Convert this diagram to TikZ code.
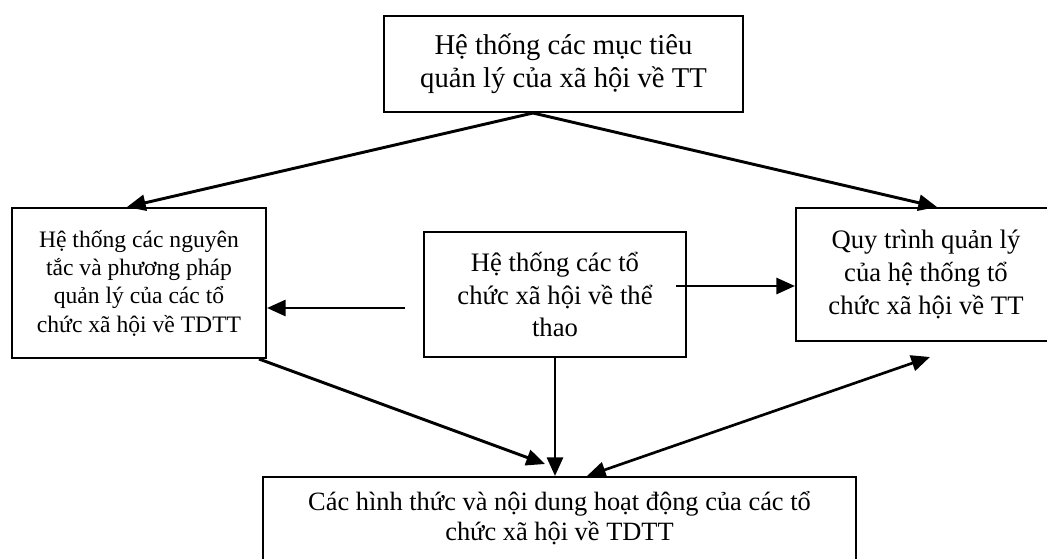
\documentclass[tikz,border=0pt]{standalone}
\usepackage{fontspec}
\setmainfont{Liberation Serif}
\usetikzlibrary{arrows.meta,calc}
\begin{document}
\begin{tikzpicture}[x=0.75pt,y=-0.75pt,
  box/.style={draw, line width=1.5pt, inner sep=0pt, align=center},
  conn/.style={line width=2.2pt, -{Triangle[length=14pt,width=12pt]}},
  dconn/.style={line width=2pt, {Triangle[length=14pt,width=12pt]}-{Triangle[length=14pt,width=12pt]}},
  midtxt/.style={font=\fontsize{17.7}{21.3}\selectfont},
  widetxt/.style={font=\fontsize{20}{24.7}\selectfont}]
\useasboundingbox (0,0) rectangle (1047,558);
\clip (0,0) rectangle (1047,558);
\node[box, minimum width=269.25pt, minimum height=72pt, font=\fontsize{21.5}{24.7}\selectfont]
  (top) at (563.5,64) {Hệ thống các mục tiêu\\quản lý của xã hội về TT};
\node[box, midtxt, minimum width=190.5pt, minimum height=112.5pt]
  (left) at (139,283) {Hệ thống các nguyên\\tắc và phương pháp\\quản lý của các tổ\\chức xã hội về TDTT};
\node[box, widetxt, minimum width=196.5pt, minimum height=93.75pt]
  (mid) at (555,294.5) {Hệ thống các tổ\\chức xã hội về thể\\thao};
\node[box, widetxt, minimum width=195pt, minimum height=99.75pt]
  (right) at (926,274.5) {Quy trình quản lý\\của hệ thống tổ\\chức xã hội về TT};
\node[box, minimum width=444.75pt, minimum height=92.25pt] (bot) at (559.5,538.5) {};
\node[align=center, inner sep=0pt, font=\fontsize{19.8}{22}\selectfont] (bottxt) at (559.5,518)
  {Các hình thức và nội dung hoạt động của các tổ\\chức xã hội về TDTT};
\coordinate (t0) at ([xshift=-22.9pt]top.south);
\coordinate (c3) at (405,308);
\coordinate (c4) at (676,286);
\coordinate (c5) at (545,464);
\coordinate (c7) at (930,357);
\draw[conn] (t0) -- ([xshift=-9pt]left.north);
\draw[conn] (t0) -- ([xshift=8.25pt]right.north);
\draw[conn] (c3) -- (left.east |- c3);
\draw[conn] (c4) -- (right.west |- c4);
\draw[conn] ([xshift=-6pt]left.south east) -- (c5);
\draw[conn] (mid.south) -- (mid.south |- bot.north);
\draw[dconn] ([xshift=20.6pt]bot.north) -- (c7);
\end{tikzpicture}
\end{document}
